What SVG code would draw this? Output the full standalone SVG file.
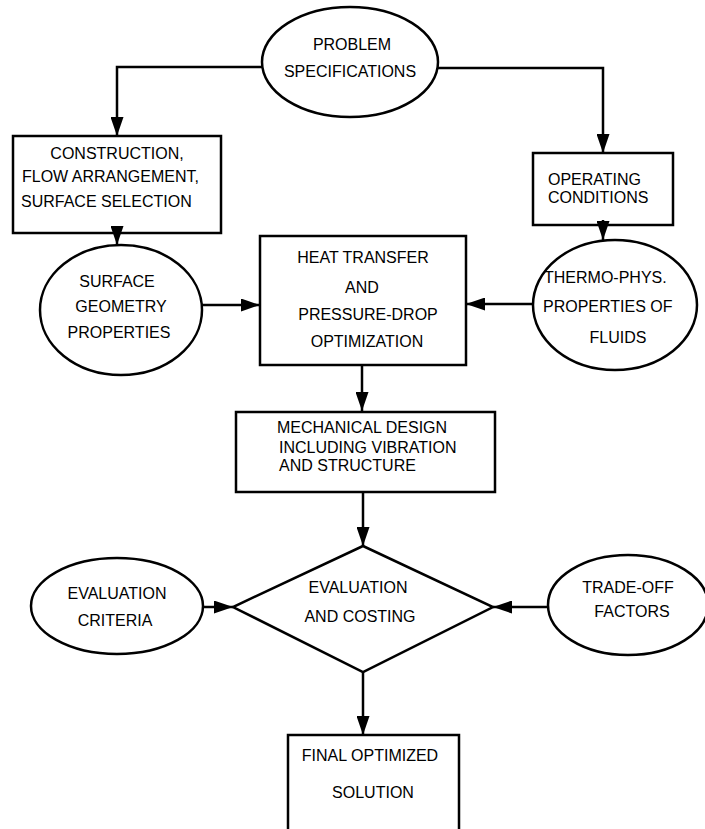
<svg xmlns="http://www.w3.org/2000/svg" width="705" height="829" viewBox="0 0 705 829">
<style>
.s{fill:#fff;stroke:#000;stroke-width:2.5}
.c{fill:none;stroke:#000;stroke-width:2.5}
text{font-family:"Liberation Sans",Arial,sans-serif;font-size:16px;fill:#000}
.m{text-anchor:middle}
</style>
<defs>
<marker id="ah" viewBox="0 0 19 13" refX="19" refY="6.5" markerWidth="19" markerHeight="13" markerUnits="userSpaceOnUse" orient="auto">
<path d="M0,0 L19,6.5 L0,13 Z" fill="#000"/>
</marker>
</defs>
<rect width="705" height="829" fill="#fff"/>
<g id="problem">
<ellipse class="s" cx="350" cy="62" rx="88" ry="55"/>
<text class="m" x="352" y="50">PROBLEM</text>
<text class="m" x="350" y="77">SPECIFICATIONS</text>
</g>
<g id="construction">
<rect class="s" x="13" y="136" width="208" height="97"/>
<text class="m" x="117" y="159">CONSTRUCTION,</text>
<text x="22" y="182">FLOW ARRANGEMENT,</text>
<text x="21" y="207">SURFACE SELECTION</text>
</g>
<g id="operating">
<rect class="s" x="533" y="153" width="140" height="72"/>
<text x="548" y="185">OPERATING</text>
<text x="548" y="203">CONDITIONS</text>
</g>
<g id="surface">
<ellipse class="s" cx="121" cy="310" rx="81" ry="65"/>
<text class="m" x="117" y="287">SURFACE</text>
<text class="m" x="121" y="312">GEOMETRY</text>
<text class="m" x="119" y="338">PROPERTIES</text>
</g>
<g id="heat">
<rect class="s" x="260" y="236" width="206" height="129"/>
<text class="m" x="363" y="263">HEAT TRANSFER</text>
<text class="m" x="362" y="293">AND</text>
<text class="m" x="368" y="320">PRESSURE-DROP</text>
<text class="m" x="367" y="347">OPTIMIZATION</text>
</g>
<g id="thermo">
<ellipse class="s" cx="615" cy="305" rx="82" ry="65"/>
<text x="544" y="283">THERMO-PHYS.</text>
<text x="543" y="312">PROPERTIES OF</text>
<text class="m" x="618" y="343">FLUIDS</text>
</g>
<g id="mechanical">
<rect class="s" x="236" y="412" width="259" height="80"/>
<text x="277" y="433">MECHANICAL DESIGN</text>
<text x="279" y="453">INCLUDING VIBRATION</text>
<text x="279" y="471">AND STRUCTURE</text>
</g>
<g id="evaluation">
<path class="s" d="M363,546 L493,607 L363,672 L233,607 Z"/>
<text class="m" x="358" y="593">EVALUATION</text>
<text class="m" x="360" y="622">AND COSTING</text>
</g>
<g id="criteria">
<ellipse class="s" cx="117" cy="606" rx="86" ry="48"/>
<text class="m" x="117" y="599">EVALUATION</text>
<text class="m" x="115" y="626">CRITERIA</text>
</g>
<g id="tradeoff">
<ellipse class="s" cx="628" cy="605" rx="80" ry="50"/>
<text class="m" x="628" y="593">TRADE-OFF</text>
<text class="m" x="632" y="617">FACTORS</text>
</g>
<g id="final">
<path class="s" d="M288,840 V735 H459 V840"/>
<text class="m" x="370" y="761">FINAL OPTIMIZED</text>
<text class="m" x="373" y="798">SOLUTION</text>
</g>
<g id="connectors">
<path class="c" d="M262,67 H117 V136" marker-end="url(#ah)"/>
<path class="c" d="M438,68 H603 V153" marker-end="url(#ah)"/>
<path class="c" d="M117,226 V245" marker-end="url(#ah)"/>
<path class="c" d="M603,220 V240" marker-end="url(#ah)"/>
<path class="c" d="M202,305 H260" marker-end="url(#ah)"/>
<path class="c" d="M533,304 H466" marker-end="url(#ah)"/>
<path class="c" d="M362,365 V411" marker-end="url(#ah)"/>
<path class="c" d="M363,492 V546" marker-end="url(#ah)"/>
<path class="c" d="M203,607 H233" marker-end="url(#ah)"/>
<path class="c" d="M548,607 H493" marker-end="url(#ah)"/>
<path class="c" d="M363,672 V735" marker-end="url(#ah)"/>
</g>
</svg>
